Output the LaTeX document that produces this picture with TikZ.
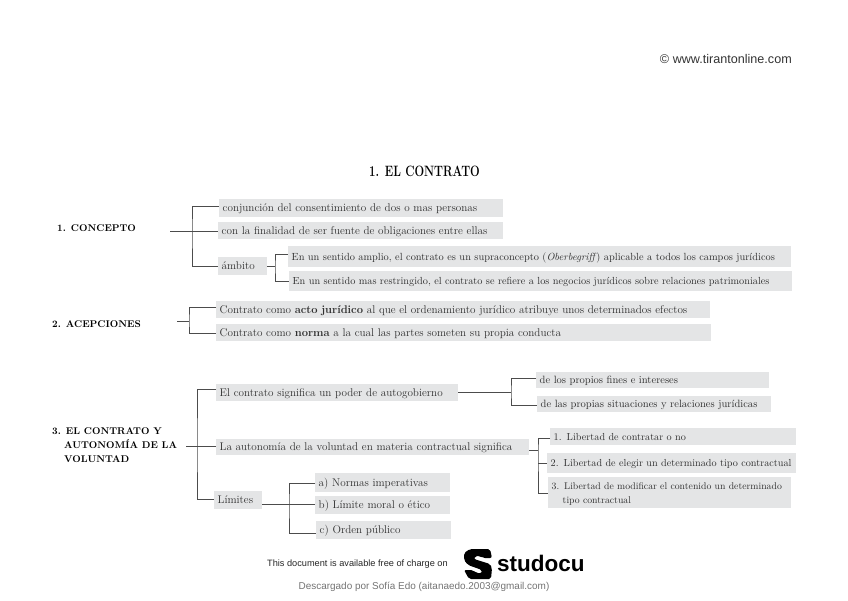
\documentclass[tikz,border=0pt]{standalone}
\usepackage{fontspec}
\usepackage{xcolor}
\usetikzlibrary{positioning}
\newfontfamily\arialfont{Liberation Sans}
\definecolor{boxgrey}{HTML}{E4E5E6}
\definecolor{inkgrey}{HTML}{303030}
\newcommand{\boxfont}[2]{\fontsize{#2}{14}\selectfont\addfontfeatures{LetterSpace=#1}}
\tikzset{
  tbox/.style={rectangle, fill=boxgrey, anchor=north west, text width=#1, inner xsep=3.5pt, inner ysep=0pt,
    align=left, font=\boxfont{5}{11.15}, text=inkgrey},
  tline/.style={tbox=#1, text height=7.5pt, text depth=0.5pt},
  head/.style={anchor=west, align=left, inner sep=0pt, font=\fontsize{9.8}{14}\selectfont\addfontfeatures{LetterSpace=3}, text=black},
  link/.style={line width=0.9pt, draw=black!70},
  foot/.style={inner sep=0pt},
}
\begin{document}
\begin{tikzpicture}[x=1pt, y=-1pt]
    \useasboundingbox (0,0) rectangle (848,601);

    \node[foot, anchor=east, text=black!80, font=\arialfont\fontsize{12.6}{14}\selectfont] (web) at (792,59) {\textcopyright\ www.tirantonline.com};
    \node[inner sep=0pt, font=\fontsize{15}{17}\selectfont, xscale=0.76] (title) at (424.5,171) {\textbf{1. EL CONTRATO}};

    % 1. concepto
    \node[head] (concepto) at (57,228) {\textbf{1. CONCEPTO}};
    \node[tline=277pt, minimum height=18pt] (conj) at (219,199) {conjunción del consentimiento de dos o mas personas};
    \node[tline=278pt, minimum height=17pt] (fin) at (218,222) {con la finalidad de ser fuente de obligaciones entre ellas};
    \node[tline=42pt, minimum height=18pt] (ambito) at (218,257) {ámbito};
    \node[tline=496pt, minimum height=21pt, font=\boxfont{4}{10.36}] (amplio) at (288,246) {En un sentido amplio, el contrato es un supraconcepto (\textit{Oberbegriff}) aplicable a todos los campos jurídicos};
    \node[tline=496pt, minimum height=20pt, font=\boxfont{5}{10.27}] (restr) at (289,271) {En un sentido mas restringido, el contrato se refiere a los negocios jurídicos sobre relaciones patrimoniales};

    % 2. acepciones
    \node[head] (acep) at (52,324) {\textbf{2. ACEPCIONES}};
    \node[tline=487pt, minimum height=17pt] (acto) at (216,301) {Contrato como \textbf{acto jurídico} al que el ordenamiento jurídico atribuye unos determinados efectos};
    \node[tline=488pt, minimum height=17pt] (norma) at (216,324) {Contrato como \textbf{norma} a la cual las partes someten su propia conducta};

    % 3. autonomia
    \node[head] (auto) at (52,445) {\textbf{3. EL CONTRATO Y}\\\hspace*{12pt}\textbf{AUTONOMÍA DE LA}\\\hspace*{12pt}\textbf{VOLUNTAD}};
    \node[tline=235pt, minimum height=17pt] (poder) at (216,384) {El contrato significa un poder de autogobierno};
    \node[tline=226pt, minimum height=16pt, font=\boxfont{4}{10.55}] (fines) at (536,372) {de los propios fines e intereses};
    \node[tline=227pt, minimum height=16pt, font=\boxfont{4}{10.55}] (situ) at (537,396) {de las propias situaciones y relaciones jurídicas};
    \node[tline=306pt, minimum height=16pt] (volun) at (216,439) {La autonomía de la voluntad en materia contractual significa};
    \node[tline=239pt, minimum height=17pt, font=\boxfont{4}{10.2}] (lib1) at (550,428) {1. Libertad de contratar o no};
    \node[tline=242pt, minimum height=20pt, font=\boxfont{4}{10.2}] (lib2) at (547,453) {2. Libertad de elegir un determinado tipo contractual};
    \node[tbox=236pt, minimum height=31pt, font=\boxfont{4.5}{9.75}] (lib3) at (548,477) {\rule{0pt}{10pt}3. Libertad de modificar el contenido un determinado\\\hspace*{11pt}tipo contractual};
    \node[tline=41pt, minimum height=18pt] (limites) at (214,491) {Límites};
    \node[tline=128pt, minimum height=19pt] (norm) at (315,473) {a) Normas imperativas};
    \node[tline=128pt, minimum height=18pt] (moral) at (315,496) {b) Límite moral o ético};
    \node[tline=128pt, minimum height=18pt] (orden) at (316,521) {c) Orden público};

    % free ends
    \coordinate (c1) at (170,231);
    \coordinate (c2) at (177,321);
    \coordinate (c3) at (186,446);
    \coordinate (s1) at (192,231);
    \coordinate (s2) at (189,321);
    \coordinate (s3) at (197,446);
    \coordinate (s4) at (275,266);
    \coordinate (s5) at (511,392);
    \coordinate (s6) at (538,450);
    \coordinate (s7) at (289,504);

    \draw[link] (c1) -- (fin.west |- c1);
    \draw[link] ([yshift=2pt]conj.west) -| (s1) |- (ambito.west);
    \draw[link] (ambito.east |- s4) -- (s4);
    \draw[link] ([yshift=2.5pt]amplio.west) -| (s4) |- (restr.west);

    \draw[link] (c2) -- (s2);
    \draw[link] ([yshift=2pt]acto.west) -| (s2) |- ([yshift=-.5pt]norma.west);

    \draw[link] (c3) -- (volun.west |- c3);
    \draw[link] ([yshift=3.5pt]poder.west) -| (s3) |- ([yshift=1pt]limites.west);

    \draw[link] (poder.east |- s5) -- (s5);
    \draw[link] (fines.west |- 0,378) -| (s5) |- (situ.west |- 0,405);

    \draw[link] (volun.east |- s6) -- (s6);
    \draw[link] (lib1.west |- 0,438) -| (s6) |- (lib3.west |- 0,493);
    \draw[link] (s6 |- lib2.west) -- (lib2.west);

    \draw[link] (limites.east |- s7) -- (moral.west |- s7);
    \draw[link] (norm.west |- 0,483) -| (s7) |- (orden.west |- 0,533);

    % footer
    \node[foot, anchor=west, text=black!85, font=\arialfont\fontsize{9.2}{11}\selectfont] (free) at (267,564) {This document is available free of charge on};
    \fill[black, rounded corners=2pt] (470,549) -- (490,549) -- (492,558) -- (483,558) -- (480,556) -- (475,556) -- (474,559) -- (490,564) -- (492,568) -- (491,579) -- (469,579) -- (464,570) -- (473,570) -- (476,573) -- (482,573) -- (482,570) -- (468,565) -- (464,560) -- (464,553) -- cycle;
    \node[anchor=west, inner sep=0pt, font=\arialfont\fontsize{22.5}{24}\selectfont] (studocu) at (497,563) {\textbf{studocu}};
    \node[foot, anchor=center, text=black!55, font=\arialfont\fontsize{9.95}{12}\selectfont] (baja) at (424,587) {Descargado por Sofía Edo (aitanaedo.2003@gmail.com)};
\end{tikzpicture}
\end{document}
